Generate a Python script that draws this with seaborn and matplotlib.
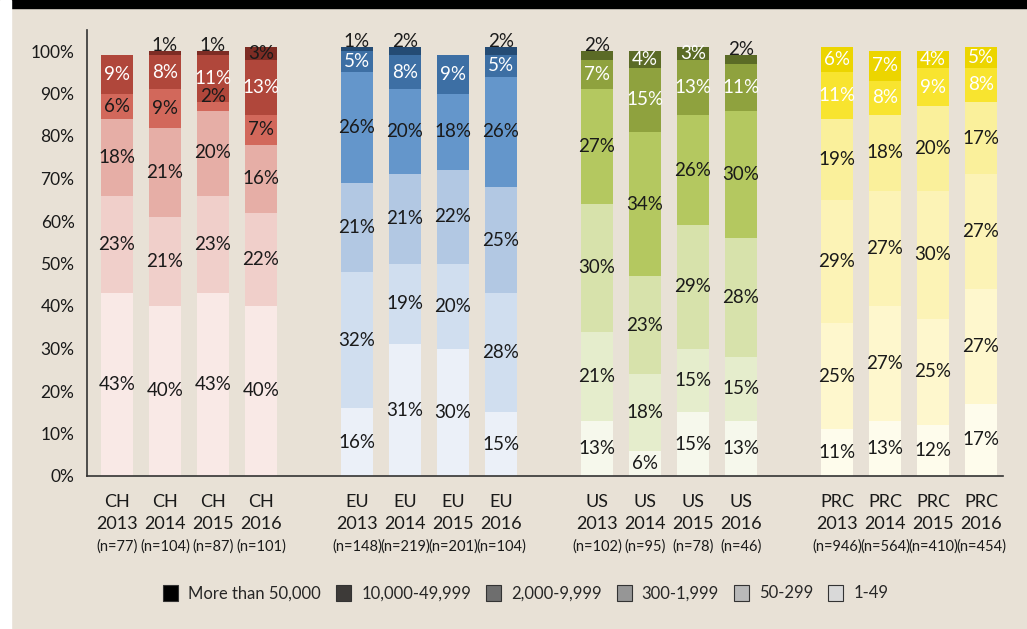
"""
Company size distribution by region and year (stacked 100% bars)
"""

import numpy as np
import pandas as pd
import matplotlib.pyplot as plt
import seaborn as sns
from matplotlib.patches import Rectangle, Patch

# ---- data -------------------------------------------------------------
sizes = ['1-49', '50-299', '300-1,999', '2,000-9,999', '10,000-49,999', 'More than 50,000']
regions = ['CH', 'EU', 'US', 'PRC']
years = ['2013', '2014', '2015', '2016']

n_counts = {
    'CH': [77, 104, 87, 101],
    'EU': [148, 219, 201, 104],
    'US': [102, 95, 78, 46],
    'PRC': [946, 564, 410, 454],
}

# shares per bar, ordered smallest size class -> largest
ch_shares = [
    [43, 23, 18, 6, 9, 0],
    [40, 21, 21, 9, 8, 1],
    [43, 23, 20, 2, 11, 1],
    [40, 22, 16, 7, 13, 3],
]
eu_shares = [
    [16, 32, 21, 26, 5, 1],
    [31, 19, 21, 20, 8, 2],
    [30, 20, 22, 18, 9, 0],
    [15, 28, 25, 26, 5, 2],
]
us_shares = [
    [13, 21, 30, 27, 7, 2],
    [6, 18, 23, 34, 15, 4],
    [15, 15, 29, 26, 13, 3],
    [13, 15, 28, 30, 11, 2],
]
prc_shares = [
    [11, 25, 29, 19, 11, 6],
    [13, 27, 27, 18, 8, 7],
    [12, 25, 30, 20, 9, 4],
    [17, 27, 27, 17, 8, 5],
]
shares = {'CH': ch_shares, 'EU': eu_shares, 'US': us_shares, 'PRC': prc_shares}

# ---- colours ----------------------------------------------------------
region_colors = {
    'CH': ['#f9e9e6', '#f0cfca', '#e6aea6', '#d2685b', '#b0473b', '#7d2c24'],
    'EU': ['#ebf0f8', '#d0deef', '#b2c8e3', '#6496cb', '#3d6fa4', '#244b74'],
    'US': ['#f6f8ec', '#e5edcc', '#d7e2ab', '#b4c860', '#8fa23e', '#5b6b26'],
    'PRC': ['#fefcec', '#fef7cd', '#fcf3b6', '#faf09b', '#f8e42f', '#ecd500'],
}
legend_colors = ['#d9d9d9', '#b9b9b9', '#969696', '#6e6e6e', '#3d3a38', '#000000']
bg = '#e8e1d6'
text_col = '#1a1a1a'

sns.set_theme(style='white')
plt.rcParams['font.family'] = ['Lato', 'DejaVu Sans']

fig = plt.figure(figsize=(10.27, 6.29), dpi=100, facecolor=bg)
# black band on top, white strip on the left
fig.patches.append(Rectangle((0, 1 - 8 / 629), 1, 8 / 629, transform=fig.transFigure,
                             color='black', zorder=0))
fig.patches.append(Rectangle((0, 0), 11 / 1027, 1, transform=fig.transFigure,
                             color='white', zorder=0))

ax = fig.add_axes([87 / 1027, 1 - 476 / 629, (1003 - 87) / 1027, (476 - 29.75) / 629])
ax.set_facecolor(bg)

bar_w = 0.667
for g, region in enumerate(regions):
    cols = region_colors[region]
    for j, year in enumerate(years):
        x = g * 5 + j
        vals = shares[region][j]
        bottom = 0
        for s, v in enumerate(vals):
            if v > 0:
                ax.bar(x, v, bottom=bottom, width=bar_w, color=cols[s], linewidth=0)
                white = s == 4 or (s == 5 and v >= 3 and region in ('US', 'PRC'))
                y = bottom + v / 2 if v >= 3 else bottom + v + 1.3
                ax.text(x, y, f'{v}%', ha='center', va='center', fontsize=13.5,
                        color='white' if white else text_col)
            bottom += v

        # category labels under the axis
        tr = ax.get_xaxis_transform()
        ax.text(x, -0.04, region, transform=tr, ha='center', va='top', fontsize=13, color=text_col)
        ax.text(x, -0.09, year, transform=tr, ha='center', va='top', fontsize=13, color=text_col)
        ax.text(x, -0.143, f'(n={n_counts[region][j]})', transform=tr, ha='center', va='top',
                fontsize=10.5, color=text_col)

ax.set_xlim(-0.625, 18.46)
ax.set_ylim(0, 105)
ax.set_xticks([])
ax.set_yticks(np.arange(0, 101, 10))
ax.set_yticklabels([f'{t}%' for t in range(0, 101, 10)], fontsize=12.5, color=text_col)
ax.tick_params(axis='y', length=0, pad=9)
sns.despine(ax=ax, top=True, right=True)
for side in ('left', 'bottom'):
    ax.spines[side].set_color('#333333')
    ax.spines[side].set_linewidth(1.2)

handles = [Patch(facecolor=c, edgecolor='#333333', linewidth=0.8) for c in legend_colors[::-1]]
fig.legend(handles, sizes[::-1], loc='center', bbox_to_anchor=(0.512, 0.057), ncol=6,
           frameon=False, fontsize=12, handlelength=0.9, handleheight=1.1,
           handletextpad=0.6, columnspacing=0.9)

fig.savefig('out.png', dpi=100, facecolor=bg)
plt.close()
